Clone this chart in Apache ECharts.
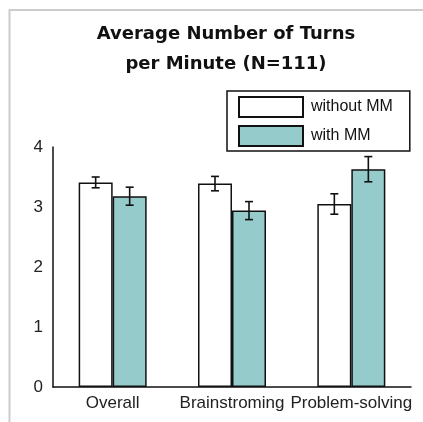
<!DOCTYPE html>
<html>
<head>
<meta charset="utf-8">
<script src="https://cdn.jsdelivr.net/npm/echarts@6/dist/echarts.min.js"></script>
<style>html,body{margin:0;padding:0;background:#fff}#c{width:423px;height:422px}</style>
</head>
<body>
<div id="c"></div>
<script>
var categories = ['Overall', 'Brainstroming', 'Problem-solving'];
var withoutMM = [3.41, 3.39, 3.05];
var withMM = [3.18, 2.94, 3.63];
var errWithout = [0.09, 0.12, 0.17];
var errWith = [0.15, 0.15, 0.21];
var yTicks = [0, 1, 2, 3, 4];

var BAR_W = 34;
var chart = echarts.init(document.getElementById('c'));

function errSeries(name, vals, errs, side) {
  return {
    type: 'custom',
    name: name + ' err',
    z: 5,
    silent: true,
    renderItem: function (params, api) {
      var i = api.value(0);
      var v = api.value(1), e = api.value(2);
      var c = api.coord([i, v]);
      var hi = api.coord([i, v + e]);
      var lo = api.coord([i, v - e]);
      var x = c[0] + side * BAR_W / 2;
      var cap = 4;
      var st = {stroke: '#111', lineWidth: 1.6};
      return {type: 'group', children: [
        {type: 'line', shape: {x1: x, y1: hi[1], x2: x, y2: lo[1]}, style: st},
        {type: 'line', shape: {x1: x - cap, y1: hi[1], x2: x + cap, y2: hi[1]}, style: st},
        {type: 'line', shape: {x1: x - cap, y1: lo[1], x2: x + cap, y2: lo[1]}, style: st}
      ]};
    },
    data: vals.map(function (v, i) { return [i, v, errs[i]]; })
  };
}

chart.setOption({
  animation: false,
  backgroundColor: '#fff',
  title: {
    text: 'Average Number of Turns\nper Minute (N=111)',
    left: 221, top: 14, textAlign: 'center',
    textStyle: {fontFamily: 'DejaVu Sans', fontWeight: 'bold', fontSize: 18, lineHeight: 30, color: '#111'}
  },
  legend: {
    orient: 'vertical', left: 227, top: 91,
    itemWidth: 64, itemHeight: 20, itemGap: 7,
    padding: [5, 17, 4, 11],
    borderColor: '#111', borderWidth: 1.5,
    backgroundColor: '#fff',
    icon: 'rect',
    textStyle: {fontFamily: 'Liberation Sans', fontSize: 16, color: '#111', padding: [0, 0, 0, 3]},
    data: ['without MM', 'with MM']
  },
  graphic: [{
    type: 'rect', z: -10, silent: true,
    shape: {x: 9.5, y: 10, width: 600, height: 600},
    style: {fill: 'none', stroke: '#cccccc', lineWidth: 2}
  }],
  grid: {left: 53, right: 12, top: 147, bottom: 35},
  xAxis: {
    type: 'category', data: categories,
    axisTick: {show: false},
    axisLine: {lineStyle: {color: '#111', width: 1.5}},
    axisLabel: {interval: 0, fontFamily: 'Liberation Sans', fontSize: 17, color: '#222', margin: 8}
  },
  yAxis: {
    type: 'value', min: yTicks[0], max: yTicks[yTicks.length - 1], interval: 1,
    splitLine: {show: false},
    axisTick: {show: false},
    axisLine: {show: true, lineStyle: {color: '#111', width: 1.5}},
    axisLabel: {fontFamily: 'Liberation Sans', fontSize: 17, color: '#222', margin: 10}
  },
  series: [
    {type: 'bar', name: 'without MM', data: withoutMM, barWidth: BAR_W, barGap: '0%',
     itemStyle: {color: '#ffffff', borderColor: '#111', borderWidth: 1.5}},
    {type: 'bar', name: 'with MM', data: withMM, barWidth: BAR_W, barGap: '0%',
     itemStyle: {color: '#96cbcb', borderColor: '#111', borderWidth: 1.5}},
    errSeries('without MM', withoutMM, errWithout, -1),
    errSeries('with MM', withMM, errWith, 1)
  ]
});
</script>
</body>
</html>
